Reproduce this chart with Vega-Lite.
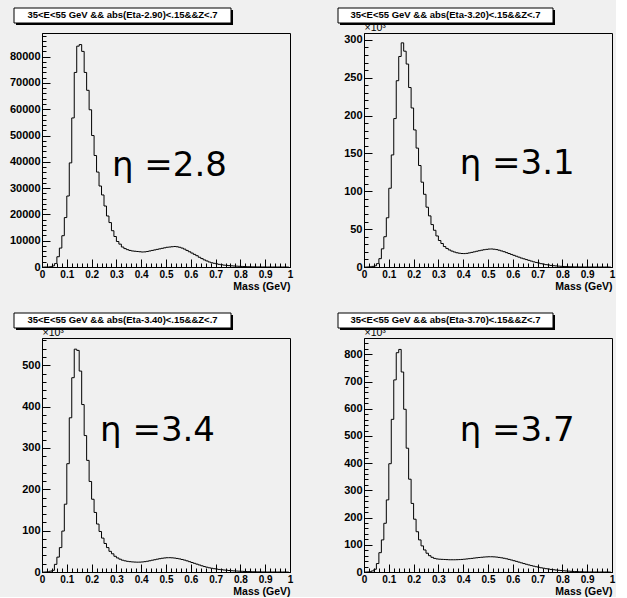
{
"$schema": "https://vega.github.io/schema/vega-lite/v6.json",
"background": "#f0f0f0",
"padding": {"left": 8, "top": 7, "right": 0, "bottom": 0},
"config": {
 "view": {"stroke": "black", "strokeWidth": 1, "fill": null},
 "axis": {"labelFont": "Liberation Sans", "labelFontWeight": "bold", "labelColor": "black", "tickColor": "black", "domainColor": "black", "grid": false, "labelFlush": false, "labelOverlap": false, "titleFont": "Liberation Sans", "titleColor": "black"},
 "axisX": {"labelFontSize": 10, "labelPadding": 10},
 "axisY": {"labelFontSize": 11, "labelPadding": 10}
},
"datasets": {
 "p1": [
{"mass":0.005,"count":0},{"mass":0.015,"count":0},{"mass":0.025,"count":0},{"mass":0.035,"count":100},{"mass":0.045,"count":400},{"mass":0.055,"count":1300},{"mass":0.065,"count":3900},{"mass":0.075,"count":7200},{"mass":0.085,"count":11900},{"mass":0.095,"count":18800},
{"mass":0.105,"count":27000},{"mass":0.115,"count":39600},{"mass":0.125,"count":56700},{"mass":0.135,"count":74000},{"mass":0.145,"count":84000},{"mass":0.155,"count":84600},{"mass":0.165,"count":82000},{"mass":0.175,"count":74000},{"mass":0.185,"count":67200},{"mass":0.195,"count":59800},
{"mass":0.205,"count":50000},{"mass":0.215,"count":42400},{"mass":0.225,"count":36100},{"mass":0.235,"count":30800},{"mass":0.245,"count":27400},{"mass":0.255,"count":23200},{"mass":0.265,"count":19400},{"mass":0.275,"count":16900},{"mass":0.285,"count":13800},{"mass":0.295,"count":11600},
{"mass":0.305,"count":9700},{"mass":0.315,"count":8700},{"mass":0.325,"count":7600},{"mass":0.335,"count":7000},{"mass":0.345,"count":6600},{"mass":0.355,"count":6300},{"mass":0.365,"count":6100},{"mass":0.375,"count":6000},{"mass":0.385,"count":5900},{"mass":0.395,"count":5800},
{"mass":0.405,"count":5700},{"mass":0.415,"count":5750},{"mass":0.425,"count":5900},{"mass":0.435,"count":6100},{"mass":0.445,"count":6300},{"mass":0.455,"count":6500},{"mass":0.465,"count":6700},{"mass":0.475,"count":6900},{"mass":0.485,"count":7100},{"mass":0.495,"count":7300},
{"mass":0.505,"count":7500},{"mass":0.515,"count":7600},{"mass":0.525,"count":7700},{"mass":0.535,"count":7800},{"mass":0.545,"count":7700},{"mass":0.555,"count":7500},{"mass":0.565,"count":7200},{"mass":0.575,"count":6800},{"mass":0.585,"count":6300},{"mass":0.595,"count":5800},
{"mass":0.605,"count":5300},{"mass":0.615,"count":4800},{"mass":0.625,"count":4300},{"mass":0.635,"count":3700},{"mass":0.645,"count":3200},{"mass":0.655,"count":2700},{"mass":0.665,"count":2300},{"mass":0.675,"count":1900},{"mass":0.685,"count":1600},{"mass":0.695,"count":1400},
{"mass":0.705,"count":1200},{"mass":0.715,"count":1000},{"mass":0.725,"count":850},{"mass":0.735,"count":700},{"mass":0.745,"count":600},{"mass":0.755,"count":520},{"mass":0.765,"count":450},{"mass":0.775,"count":380},{"mass":0.785,"count":320},{"mass":0.795,"count":270},
{"mass":0.805,"count":220},{"mass":0.815,"count":170},{"mass":0.825,"count":130},{"mass":0.835,"count":100},{"mass":0.845,"count":70},{"mass":0.855,"count":50},{"mass":0.865,"count":35},{"mass":0.875,"count":25},{"mass":0.885,"count":15},{"mass":0.895,"count":10},
{"mass":0.905,"count":0},{"mass":0.915,"count":0},{"mass":0.925,"count":0},{"mass":0.935,"count":0},{"mass":0.945,"count":0},{"mass":0.955,"count":0},{"mass":0.965,"count":0},{"mass":0.975,"count":0},{"mass":0.985,"count":0},{"mass":0.995,"count":0}
 ],
 "p2": [
{"mass":0.005,"count":0},{"mass":0.015,"count":0},{"mass":0.025,"count":0.3},{"mass":0.035,"count":0.8},{"mass":0.045,"count":1.5},{"mass":0.055,"count":4.4},{"mass":0.065,"count":11},{"mass":0.075,"count":24},{"mass":0.085,"count":40},{"mass":0.095,"count":65},
{"mass":0.105,"count":104},{"mass":0.115,"count":148},{"mass":0.125,"count":196},{"mass":0.135,"count":246},{"mass":0.145,"count":278},{"mass":0.155,"count":296},{"mass":0.165,"count":285},{"mass":0.175,"count":268},{"mass":0.185,"count":237},{"mass":0.195,"count":210},
{"mass":0.205,"count":181},{"mass":0.215,"count":157},{"mass":0.225,"count":134},{"mass":0.235,"count":112},{"mass":0.245,"count":96},{"mass":0.255,"count":79},{"mass":0.265,"count":67.5},{"mass":0.275,"count":56},{"mass":0.285,"count":48.5},{"mass":0.295,"count":41},
{"mass":0.305,"count":35},{"mass":0.315,"count":31},{"mass":0.325,"count":27},{"mass":0.335,"count":24.5},{"mass":0.345,"count":22.5},{"mass":0.355,"count":21},{"mass":0.365,"count":19.8},{"mass":0.375,"count":18.8},{"mass":0.385,"count":18.2},{"mass":0.395,"count":17.8},
{"mass":0.405,"count":17.7},{"mass":0.415,"count":18},{"mass":0.425,"count":18.6},{"mass":0.435,"count":19.3},{"mass":0.445,"count":20},{"mass":0.455,"count":20.8},{"mass":0.465,"count":21.5},{"mass":0.475,"count":22.2},{"mass":0.485,"count":22.8},{"mass":0.495,"count":23.3},
{"mass":0.505,"count":23.7},{"mass":0.515,"count":23.8},{"mass":0.525,"count":23.5},{"mass":0.535,"count":23},{"mass":0.545,"count":22.2},{"mass":0.555,"count":21.2},{"mass":0.565,"count":20.2},{"mass":0.575,"count":19},{"mass":0.585,"count":17.8},{"mass":0.595,"count":16.6},
{"mass":0.605,"count":15.4},{"mass":0.615,"count":14.2},{"mass":0.625,"count":13},{"mass":0.635,"count":11.8},{"mass":0.645,"count":10.8},{"mass":0.655,"count":9.8},{"mass":0.665,"count":8.8},{"mass":0.675,"count":7.8},{"mass":0.685,"count":6.8},{"mass":0.695,"count":6},
{"mass":0.705,"count":5.2},{"mass":0.715,"count":4.4},{"mass":0.725,"count":3.7},{"mass":0.735,"count":3.1},{"mass":0.745,"count":2.6},{"mass":0.755,"count":2.1},{"mass":0.765,"count":1.7},{"mass":0.775,"count":1.4},{"mass":0.785,"count":1.1},{"mass":0.795,"count":0.9},
{"mass":0.805,"count":0.7},{"mass":0.815,"count":0.5},{"mass":0.825,"count":0.4},{"mass":0.835,"count":0.3},{"mass":0.845,"count":0.2},{"mass":0.855,"count":0.15},{"mass":0.865,"count":0.1},{"mass":0.875,"count":0.05},{"mass":0.885,"count":0},{"mass":0.895,"count":0},
{"mass":0.905,"count":0},{"mass":0.915,"count":0},{"mass":0.925,"count":0},{"mass":0.935,"count":0},{"mass":0.945,"count":0},{"mass":0.955,"count":0},{"mass":0.965,"count":0},{"mass":0.975,"count":0},{"mass":0.985,"count":0},{"mass":0.995,"count":0}
 ],
 "p3": [
{"mass":0.005,"count":0},{"mass":0.015,"count":0},{"mass":0.025,"count":0.5},{"mass":0.035,"count":2},{"mass":0.045,"count":4},{"mass":0.055,"count":18.5},{"mass":0.065,"count":36},{"mass":0.075,"count":59},{"mass":0.085,"count":99},{"mass":0.095,"count":164},
{"mass":0.105,"count":262},{"mass":0.115,"count":373},{"mass":0.125,"count":470},{"mass":0.135,"count":539},{"mass":0.145,"count":536},{"mass":0.155,"count":486},{"mass":0.165,"count":405},{"mass":0.175,"count":330},{"mass":0.185,"count":270},{"mass":0.195,"count":219},
{"mass":0.205,"count":176},{"mass":0.215,"count":144},{"mass":0.225,"count":116},{"mass":0.235,"count":98},{"mass":0.245,"count":82},{"mass":0.255,"count":69},{"mass":0.265,"count":59},{"mass":0.275,"count":50},{"mass":0.285,"count":44},{"mass":0.295,"count":38},
{"mass":0.305,"count":34},{"mass":0.315,"count":31},{"mass":0.325,"count":28.5},{"mass":0.335,"count":27},{"mass":0.345,"count":25.8},{"mass":0.355,"count":25},{"mass":0.365,"count":24.4},{"mass":0.375,"count":24},{"mass":0.385,"count":23.8},{"mass":0.395,"count":23.9},
{"mass":0.405,"count":24.3},{"mass":0.415,"count":25},{"mass":0.425,"count":26},{"mass":0.435,"count":27.2},{"mass":0.445,"count":28.5},{"mass":0.455,"count":29.7},{"mass":0.465,"count":31},{"mass":0.475,"count":32.2},{"mass":0.485,"count":33.2},{"mass":0.495,"count":34},
{"mass":0.505,"count":34.5},{"mass":0.515,"count":34.6},{"mass":0.525,"count":34.3},{"mass":0.535,"count":33.7},{"mass":0.545,"count":32.8},{"mass":0.555,"count":31.7},{"mass":0.565,"count":30.3},{"mass":0.575,"count":28.8},{"mass":0.585,"count":27},{"mass":0.595,"count":25},
{"mass":0.605,"count":23},{"mass":0.615,"count":21},{"mass":0.625,"count":19},{"mass":0.635,"count":17},{"mass":0.645,"count":15},{"mass":0.655,"count":13.2},{"mass":0.665,"count":11.6},{"mass":0.675,"count":10.2},{"mass":0.685,"count":9},{"mass":0.695,"count":8},
{"mass":0.705,"count":7},{"mass":0.715,"count":6.2},{"mass":0.725,"count":5.5},{"mass":0.735,"count":4.8},{"mass":0.745,"count":4.2},{"mass":0.755,"count":3.6},{"mass":0.765,"count":3.1},{"mass":0.775,"count":2.7},{"mass":0.785,"count":2.3},{"mass":0.795,"count":2},
{"mass":0.805,"count":1.7},{"mass":0.815,"count":1.4},{"mass":0.825,"count":1.1},{"mass":0.835,"count":0.9},{"mass":0.845,"count":0.7},{"mass":0.855,"count":0.5},{"mass":0.865,"count":0.4},{"mass":0.875,"count":0.3},{"mass":0.885,"count":0.2},{"mass":0.895,"count":0.1},
{"mass":0.905,"count":0},{"mass":0.915,"count":0},{"mass":0.925,"count":0},{"mass":0.935,"count":0},{"mass":0.945,"count":0},{"mass":0.955,"count":0},{"mass":0.965,"count":0},{"mass":0.975,"count":0},{"mass":0.985,"count":0},{"mass":0.995,"count":0}
 ],
 "p4": [
{"mass":0.005,"count":0},{"mass":0.015,"count":0},{"mass":0.025,"count":1},{"mass":0.035,"count":4},{"mass":0.045,"count":10},{"mass":0.055,"count":31},{"mass":0.065,"count":71},{"mass":0.075,"count":118},{"mass":0.085,"count":179},{"mass":0.095,"count":265},
{"mass":0.105,"count":398},{"mass":0.115,"count":561},{"mass":0.125,"count":706},{"mass":0.135,"count":806},{"mass":0.145,"count":818},{"mass":0.155,"count":735},{"mass":0.165,"count":598},{"mass":0.175,"count":455},{"mass":0.185,"count":341},{"mass":0.195,"count":252},
{"mass":0.205,"count":194},{"mass":0.215,"count":148},{"mass":0.225,"count":118},{"mass":0.235,"count":96},{"mass":0.245,"count":81},{"mass":0.255,"count":69},{"mass":0.265,"count":60},{"mass":0.275,"count":54},{"mass":0.285,"count":50},{"mass":0.295,"count":48},
{"mass":0.305,"count":47},{"mass":0.315,"count":46.5},{"mass":0.325,"count":46},{"mass":0.335,"count":45.5},{"mass":0.345,"count":45},{"mass":0.355,"count":45},{"mass":0.365,"count":45},{"mass":0.375,"count":45.2},{"mass":0.385,"count":45.6},{"mass":0.395,"count":46.2},
{"mass":0.405,"count":47},{"mass":0.415,"count":48},{"mass":0.425,"count":49},{"mass":0.435,"count":50},{"mass":0.445,"count":51.2},{"mass":0.455,"count":52.3},{"mass":0.465,"count":53.3},{"mass":0.475,"count":54.2},{"mass":0.485,"count":55},{"mass":0.495,"count":55.6},
{"mass":0.505,"count":56},{"mass":0.515,"count":56},{"mass":0.525,"count":55.6},{"mass":0.535,"count":54.8},{"mass":0.545,"count":53.6},{"mass":0.555,"count":52.2},{"mass":0.565,"count":50.5},{"mass":0.575,"count":48.6},{"mass":0.585,"count":46.4},{"mass":0.595,"count":44},
{"mass":0.605,"count":41.5},{"mass":0.615,"count":39},{"mass":0.625,"count":36.3},{"mass":0.635,"count":33.6},{"mass":0.645,"count":31},{"mass":0.655,"count":28.4},{"mass":0.665,"count":26},{"mass":0.675,"count":23.6},{"mass":0.685,"count":21.4},{"mass":0.695,"count":19.3},
{"mass":0.705,"count":17.3},{"mass":0.715,"count":15.5},{"mass":0.725,"count":13.8},{"mass":0.735,"count":12.2},{"mass":0.745,"count":10.8},{"mass":0.755,"count":9.5},{"mass":0.765,"count":8.3},{"mass":0.775,"count":7.2},{"mass":0.785,"count":6.2},{"mass":0.795,"count":5.3},
{"mass":0.805,"count":4.5},{"mass":0.815,"count":3.8},{"mass":0.825,"count":3.1},{"mass":0.835,"count":2.5},{"mass":0.845,"count":2},{"mass":0.855,"count":1.6},{"mass":0.865,"count":1.2},{"mass":0.875,"count":0.9},{"mass":0.885,"count":0.6},{"mass":0.895,"count":0.4},
{"mass":0.905,"count":0.2},{"mass":0.915,"count":0.1},{"mass":0.925,"count":0},{"mass":0.935,"count":0},{"mass":0.945,"count":0},{"mass":0.955,"count":0},{"mass":0.965,"count":0},{"mass":0.975,"count":0},{"mass":0.985,"count":0},{"mass":0.995,"count":0}
 ]
},
"columns": 2,
"bounds": "flush",
"spacing": {"row": 71, "column": 74},
"concat": [
 {"width": 248, "height": 234, "resolve": {"axis": {"x": "independent", "y": "independent"}}, "layer": [
  {"data": {"name": "p1"}, "mark": {"type": "line", "interpolate": "step", "color": "black", "strokeWidth": 1},
   "encoding": {
    "x": {"field": "mass", "type": "quantitative", "scale": {"domain": [0, 1], "nice": false, "zero": false},
     "axis": {"orient": "bottom", "values": [0,0.1,0.2,0.3,0.4,0.5,0.6,0.7,0.8,0.9,1], "format": ".1~f", "tickSize": -8, "labelOverlap": false,
      "title": "Mass (GeV)", "titleFontSize": 10.5, "titleFontWeight": "bold", "titleX": 248, "titleY": 22, "titleAlign": "right", "titleBaseline": "alphabetic", "titleAnchor": "end"}},
    "y": {"field": "count", "type": "quantitative", "scale": {"domain": [0, 89000], "nice": false},
     "axis": {"orient": "left", "values": [0,10000,20000,30000,40000,50000,60000,70000,80000], "format": "d", "tickSize": -8, "labelOverlap": false, "title": null}}}},
  {"data": {"values": [{"cut": "35<E<55 GeV && abs(Eta-2.90)<.15&&Z<.7"}]}, "mark": {"type": "rect", "fill": "black"},
   "encoding": {
    "x": {"datum": -0.1048, "type": "quantitative", "axis": {"orient": "bottom", "values": [0,0.02,0.04,0.06,0.08,0.1,0.12,0.14,0.16,0.18,0.2,0.22,0.24,0.26,0.28,0.3,0.32,0.34,0.36,0.38,0.4,0.42,0.44,0.46,0.48,0.5,0.52,0.54,0.56,0.58,0.6,0.62,0.64,0.66,0.68,0.7,0.72,0.74,0.76,0.78,0.8,0.82,0.84,0.86,0.88,0.9,0.92,0.94,0.96,0.98,1], "tickSize": -4, "labels": false, "domain": false, "title": null}},
    "x2": {"datum": 0.7702},
    "y": {"datum": 97747.9, "type": "quantitative", "axis": {"orient": "left", "values": [0,2000,4000,6000,8000,10000,12000,14000,16000,18000,20000,22000,24000,26000,28000,30000,32000,34000,36000,38000,40000,42000,44000,46000,48000,50000,52000,54000,56000,58000,60000,62000,64000,66000,68000,70000,72000,74000,76000,78000,80000,82000,84000,86000,88000], "tickSize": -4, "labels": false, "domain": false, "title": null}},
    "y2": {"datum": 92042.7}}},
  {"data": {"values": [{"cut": "35<E<55 GeV && abs(Eta-2.90)<.15&&Z<.7"}]}, "mark": {"type": "rect", "fill": "white", "stroke": "black", "strokeWidth": 1},
   "encoding": {"x": {"datum": -0.1129, "type": "quantitative", "axis": null}, "x2": {"datum": 0.7621}, "y": {"datum": 98508.5, "type": "quantitative", "axis": null}, "y2": {"datum": 92803.4}}},
  {"data": {"values": [{"cut": "35<E<55 GeV && abs(Eta-2.90)<.15&&Z<.7"}]}, "mark": {"type": "text", "font": "Liberation Sans", "fontSize": 9.5, "fontWeight": "bold", "color": "black", "align": "center", "baseline": "middle"},
   "encoding": {"x": {"datum": 0.3246, "type": "quantitative", "axis": null}, "y": {"datum": 95656, "type": "quantitative", "axis": null}, "text": {"field": "cut"}}},
  {"data": {"values": [{"label": "η =2.8"}]}, "mark": {"type": "text", "font": "DejaVu Sans", "fontSize": 34, "color": "black", "align": "left", "baseline": "alphabetic"},
   "encoding": {"x": {"datum": 0.282, "type": "quantitative", "axis": null}, "y": {"datum": 34611, "type": "quantitative", "axis": null}, "text": {"field": "label"}}}
 ]},
 {"width": 248, "height": 234, "resolve": {"axis": {"x": "independent", "y": "independent"}}, "layer": [
  {"data": {"name": "p2"}, "mark": {"type": "line", "interpolate": "step", "color": "black", "strokeWidth": 1},
   "encoding": {
    "x": {"field": "mass", "type": "quantitative", "scale": {"domain": [0, 1], "nice": false, "zero": false},
     "axis": {"orient": "bottom", "values": [0,0.1,0.2,0.3,0.4,0.5,0.6,0.7,0.8,0.9,1], "format": ".1~f", "tickSize": -8, "labelOverlap": false,
      "title": "Mass (GeV)", "titleFontSize": 10.5, "titleFontWeight": "bold", "titleX": 248, "titleY": 22, "titleAlign": "right", "titleBaseline": "alphabetic", "titleAnchor": "end"}},
    "y": {"field": "count", "type": "quantitative", "scale": {"domain": [0, 309], "nice": false},
     "axis": {"orient": "left", "values": [0,50,100,150,200,250,300], "format": "d", "tickSize": -8, "labelOverlap": false,
      "title": "×10³", "titleAngle": 0, "titleX": 0, "titleY": -3, "titleAlign": "left", "titleBaseline": "alphabetic", "titleFontWeight": "normal", "titleFontSize": 10.5}}}},
  {"data": {"values": [{"cut": "35<E<55 GeV && abs(Eta-3.20)<.15&&Z<.7"}]}, "mark": {"type": "rect", "fill": "black"},
   "encoding": {
    "x": {"datum": -0.0968, "type": "quantitative", "axis": {"orient": "bottom", "values": [0,0.02,0.04,0.06,0.08,0.1,0.12,0.14,0.16,0.18,0.2,0.22,0.24,0.26,0.28,0.3,0.32,0.34,0.36,0.38,0.4,0.42,0.44,0.46,0.48,0.5,0.52,0.54,0.56,0.58,0.6,0.62,0.64,0.66,0.68,0.7,0.72,0.74,0.76,0.78,0.8,0.82,0.84,0.86,0.88,0.9,0.92,0.94,0.96,0.98,1], "tickSize": -4, "labels": false, "domain": false, "title": null}},
    "x2": {"datum": 0.7702},
    "y": {"datum": 339.37, "type": "quantitative", "axis": {"orient": "left", "values": [0,10,20,30,40,50,60,70,80,90,100,110,120,130,140,150,160,170,180,190,200,210,220,230,240,250,260,270,280,290,300], "tickSize": -4, "labels": false, "domain": false, "title": null}},
    "y2": {"datum": 319.56}}},
  {"data": {"values": [{"cut": "35<E<55 GeV && abs(Eta-3.20)<.15&&Z<.7"}]}, "mark": {"type": "rect", "fill": "white", "stroke": "black", "strokeWidth": 1},
   "encoding": {"x": {"datum": -0.1048, "type": "quantitative", "axis": null}, "x2": {"datum": 0.7621}, "y": {"datum": 342.01, "type": "quantitative", "axis": null}, "y2": {"datum": 322.21}}},
  {"data": {"values": [{"cut": "35<E<55 GeV && abs(Eta-3.20)<.15&&Z<.7"}]}, "mark": {"type": "text", "font": "Liberation Sans", "fontSize": 9.5, "fontWeight": "bold", "color": "black", "align": "center", "baseline": "middle"},
   "encoding": {"x": {"datum": 0.3286, "type": "quantitative", "axis": null}, "y": {"datum": 332.11, "type": "quantitative", "axis": null}, "text": {"field": "cut"}}},
  {"data": {"values": [{"label": "η =3.1"}]}, "mark": {"type": "text", "font": "DejaVu Sans", "fontSize": 34, "color": "black", "align": "left", "baseline": "alphabetic"},
   "encoding": {"x": {"datum": 0.386, "type": "quantitative", "axis": null}, "y": {"datum": 122.8, "type": "quantitative", "axis": null}, "text": {"field": "label"}}}
 ]},
 {"width": 248, "height": 234, "resolve": {"axis": {"x": "independent", "y": "independent"}}, "layer": [
  {"data": {"name": "p3"}, "mark": {"type": "line", "interpolate": "step", "color": "black", "strokeWidth": 1},
   "encoding": {
    "x": {"field": "mass", "type": "quantitative", "scale": {"domain": [0, 1], "nice": false, "zero": false},
     "axis": {"orient": "bottom", "values": [0,0.1,0.2,0.3,0.4,0.5,0.6,0.7,0.8,0.9,1], "format": ".1~f", "tickSize": -8, "labelOverlap": false,
      "title": "Mass (GeV)", "titleFontSize": 10.5, "titleFontWeight": "bold", "titleX": 248, "titleY": 22, "titleAlign": "right", "titleBaseline": "alphabetic", "titleAnchor": "end"}},
    "y": {"field": "count", "type": "quantitative", "scale": {"domain": [0, 566], "nice": false},
     "axis": {"orient": "left", "values": [0,100,200,300,400,500], "format": "d", "tickSize": -8, "labelOverlap": false,
      "title": "×10³", "titleAngle": 0, "titleX": 0, "titleY": -3, "titleAlign": "left", "titleBaseline": "alphabetic", "titleFontWeight": "normal", "titleFontSize": 10.5}}}},
  {"data": {"values": [{"cut": "35<E<55 GeV && abs(Eta-3.40)<.15&&Z<.7"}]}, "mark": {"type": "rect", "fill": "black"},
   "encoding": {
    "x": {"datum": -0.1048, "type": "quantitative", "axis": {"orient": "bottom", "values": [0,0.02,0.04,0.06,0.08,0.1,0.12,0.14,0.16,0.18,0.2,0.22,0.24,0.26,0.28,0.3,0.32,0.34,0.36,0.38,0.4,0.42,0.44,0.46,0.48,0.5,0.52,0.54,0.56,0.58,0.6,0.62,0.64,0.66,0.68,0.7,0.72,0.74,0.76,0.78,0.8,0.82,0.84,0.86,0.88,0.9,0.92,0.94,0.96,0.98,1], "tickSize": -4, "labels": false, "domain": false, "title": null}},
    "x2": {"datum": 0.7702},
    "y": {"datum": 621.63, "type": "quantitative", "axis": {"orient": "left", "values": [0,20,40,60,80,100,120,140,160,180,200,220,240,260,280,300,320,340,360,380,400,420,440,460,480,500,520,540,560], "tickSize": -4, "labels": false, "domain": false, "title": null}},
    "y2": {"datum": 585.35}}},
  {"data": {"values": [{"cut": "35<E<55 GeV && abs(Eta-3.40)<.15&&Z<.7"}]}, "mark": {"type": "rect", "fill": "white", "stroke": "black", "strokeWidth": 1},
   "encoding": {"x": {"datum": -0.1129, "type": "quantitative", "axis": null}, "x2": {"datum": 0.7621}, "y": {"datum": 626.47, "type": "quantitative", "axis": null}, "y2": {"datum": 590.19}}},
  {"data": {"values": [{"cut": "35<E<55 GeV && abs(Eta-3.40)<.15&&Z<.7"}]}, "mark": {"type": "text", "font": "Liberation Sans", "fontSize": 9.5, "fontWeight": "bold", "color": "black", "align": "center", "baseline": "middle"},
   "encoding": {"x": {"datum": 0.3246, "type": "quantitative", "axis": null}, "y": {"datum": 608.33, "type": "quantitative", "axis": null}, "text": {"field": "cut"}}},
  {"data": {"values": [{"label": "η =3.4"}]}, "mark": {"type": "text", "font": "DejaVu Sans", "fontSize": 34, "color": "black", "align": "left", "baseline": "alphabetic"},
   "encoding": {"x": {"datum": 0.234, "type": "quantitative", "axis": null}, "y": {"datum": 317.6, "type": "quantitative", "axis": null}, "text": {"field": "label"}}}
 ]},
 {"width": 248, "height": 234, "resolve": {"axis": {"x": "independent", "y": "independent"}}, "layer": [
  {"data": {"name": "p4"}, "mark": {"type": "line", "interpolate": "step", "color": "black", "strokeWidth": 1},
   "encoding": {
    "x": {"field": "mass", "type": "quantitative", "scale": {"domain": [0, 1], "nice": false, "zero": false},
     "axis": {"orient": "bottom", "values": [0,0.1,0.2,0.3,0.4,0.5,0.6,0.7,0.8,0.9,1], "format": ".1~f", "tickSize": -8, "labelOverlap": false,
      "title": "Mass (GeV)", "titleFontSize": 10.5, "titleFontWeight": "bold", "titleX": 248, "titleY": 22, "titleAlign": "right", "titleBaseline": "alphabetic", "titleAnchor": "end"}},
    "y": {"field": "count", "type": "quantitative", "scale": {"domain": [0, 860], "nice": false},
     "axis": {"orient": "left", "values": [0,100,200,300,400,500,600,700,800], "format": "d", "tickSize": -8, "labelOverlap": false,
      "title": "×10³", "titleAngle": 0, "titleX": 0, "titleY": -3, "titleAlign": "left", "titleBaseline": "alphabetic", "titleFontWeight": "normal", "titleFontSize": 10.5}}}},
  {"data": {"values": [{"cut": "35<E<55 GeV && abs(Eta-3.70)<.15&&Z<.7"}]}, "mark": {"type": "rect", "fill": "black"},
   "encoding": {
    "x": {"datum": -0.0968, "type": "quantitative", "axis": {"orient": "bottom", "values": [0,0.02,0.04,0.06,0.08,0.1,0.12,0.14,0.16,0.18,0.2,0.22,0.24,0.26,0.28,0.3,0.32,0.34,0.36,0.38,0.4,0.42,0.44,0.46,0.48,0.5,0.52,0.54,0.56,0.58,0.6,0.62,0.64,0.66,0.68,0.7,0.72,0.74,0.76,0.78,0.8,0.82,0.84,0.86,0.88,0.9,0.92,0.94,0.96,0.98,1], "tickSize": -4, "labels": false, "domain": false, "title": null}},
    "x2": {"datum": 0.7702},
    "y": {"datum": 944.53, "type": "quantitative", "axis": {"orient": "left", "values": [0,20,40,60,80,100,120,140,160,180,200,220,240,260,280,300,320,340,360,380,400,420,440,460,480,500,520,540,560,580,600,620,640,660,680,700,720,740,760,780,800,820,840], "tickSize": -4, "labels": false, "domain": false, "title": null}},
    "y2": {"datum": 889.40}}},
  {"data": {"values": [{"cut": "35<E<55 GeV && abs(Eta-3.70)<.15&&Z<.7"}]}, "mark": {"type": "rect", "fill": "white", "stroke": "black", "strokeWidth": 1},
   "encoding": {"x": {"datum": -0.1048, "type": "quantitative", "axis": null}, "x2": {"datum": 0.7621}, "y": {"datum": 951.88, "type": "quantitative", "axis": null}, "y2": {"datum": 896.75}}},
  {"data": {"values": [{"cut": "35<E<55 GeV && abs(Eta-3.70)<.15&&Z<.7"}]}, "mark": {"type": "text", "font": "Liberation Sans", "fontSize": 9.5, "fontWeight": "bold", "color": "black", "align": "center", "baseline": "middle"},
   "encoding": {"x": {"datum": 0.3286, "type": "quantitative", "axis": null}, "y": {"datum": 924.32, "type": "quantitative", "axis": null}, "text": {"field": "cut"}}},
  {"data": {"values": [{"label": "η =3.7"}]}, "mark": {"type": "text", "font": "DejaVu Sans", "fontSize": 34, "color": "black", "align": "left", "baseline": "alphabetic"},
   "encoding": {"x": {"datum": 0.386, "type": "quantitative", "axis": null}, "y": {"datum": 482.6, "type": "quantitative", "axis": null}, "text": {"field": "label"}}}
 ]}
]
}
